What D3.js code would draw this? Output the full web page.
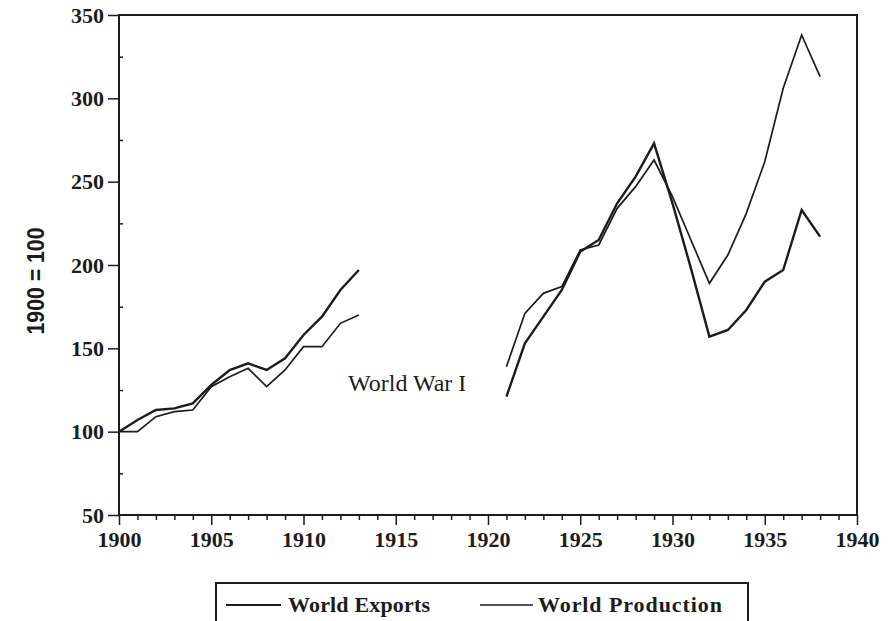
<!DOCTYPE html>
<html>
<head>
<meta charset="utf-8">
<script src="https://cdn.jsdelivr.net/npm/d3@7"></script>
<style>
  html, body { margin: 0; padding: 0; background: #fff; }
  svg { display: block; }
</style>
</head>
<body>
<svg id="chart" width="894" height="621"></svg>
<script>
// ---- data ----
const years = [1900,1901,1902,1903,1904,1905,1906,1907,1908,1909,1910,1911,1912,1913,
               1914,1915,1916,1917,1918,1919,1920,
               1921,1922,1923,1924,1925,1926,1927,1928,1929,1930,1931,1932,1933,1934,1935,1936,1937,1938];
const worldExports = [100,107,113,114,117,128,137,141,137,144,158,169,185,197,
               null,null,null,null,null,null,null,
               121,153,169,185,208,215,237,253,273,237,198,157,161,173,190,197,233,217];
const worldProduction = [100,100,109,112,113,127,133,138,127,137,151,151,165,170,
               null,null,null,null,null,null,null,
               139,171,183,187,209,212,234,247,263,241,215,189,206,231,262,306,338,313];
const xTicks = [1900,1905,1910,1915,1920,1925,1930,1935,1940];
const xMinorTicks = [1901,1902,1903,1904,1906,1907,1908,1909,1911,1912,1913,1914,1916,1917,1918,1919,
                     1921,1922,1923,1924,1926,1927,1928,1929,1931,1932,1933,1934,1936,1937,1938,1939];
const yTicks = [50,100,150,200,250,300,350];
const yMinorTicks = [75,125,175,225,275,325];
const seriesNames = ["World Exports", "World Production"];
const yLabel = "1900 = 100";
const annotation = "World War I";

// ---- layout ----
const svg = d3.select("#chart");
const L = 119, R = 857, T = 15, B = 515;
const ink = "#1c1c1c";
const serif = "'Liberation Serif', 'Times New Roman', serif";

const x = d3.scaleLinear().domain([1900, 1940]).range([L, R]);
const y = d3.scaleLinear().domain([50, 350]).range([B, T]);

// frame
svg.append("rect").attr("x", L).attr("y", T).attr("width", R - L).attr("height", B - T)
  .attr("fill", "none").attr("stroke", ink).attr("stroke-width", 2);

// x axis
const xAxis = svg.append("g").attr("transform", `translate(0,${B})`)
  .call(d3.axisBottom(x).tickValues(xTicks).tickFormat(d3.format("d")).tickSize(10).tickPadding(6));
const xMinor = svg.append("g").attr("transform", `translate(0,${B})`)
  .call(d3.axisBottom(x).tickValues(xMinorTicks).tickFormat("").tickSize(5));

// y axis
const yAxis = svg.append("g").attr("transform", `translate(${L},0)`)
  .call(d3.axisLeft(y).tickValues(yTicks).tickFormat(d3.format("d")).tickSize(11).tickPadding(4));
const yMinor = svg.append("g").attr("transform", `translate(${L},0)`)
  .call(d3.axisRight(y).tickValues(yMinorTicks).tickFormat("").tickSize(4));

[xAxis, xMinor, yAxis, yMinor].forEach(g => {
  g.select(".domain").remove();
  g.selectAll(".tick line").attr("stroke", ink).attr("stroke-width", 1.5);
  g.selectAll(".tick text").attr("fill", ink).attr("font-family", serif)
    .attr("font-size", 22).attr("font-weight", "bold");
});

// y label
svg.append("text")
  .attr("transform", `translate(44,281) rotate(-90)`)
  .attr("text-anchor", "middle")
  .attr("font-family", "'Liberation Sans', Arial, sans-serif")
  .attr("font-size", 23)
  .attr("font-weight", "bold")
  .attr("textLength", 107)
  .attr("lengthAdjust", "spacingAndGlyphs")
  .attr("fill", ink)
  .text(yLabel);

// lines
const mk = vals => years.map((yr, i) => ({ yr, v: vals[i] }));
const line = d3.line().defined(d => d.v != null).x(d => x(d.yr)).y(d => y(d.v));

svg.append("path").datum(mk(worldProduction)).attr("d", line)
  .attr("fill", "none").attr("stroke", ink).attr("stroke-width", 1.7).attr("stroke-linejoin", "miter");
svg.append("path").datum(mk(worldExports)).attr("d", line)
  .attr("fill", "none").attr("stroke", ink).attr("stroke-width", 2.4).attr("stroke-linejoin", "miter");

// annotation
svg.append("text").attr("x", 348).attr("y", 391)
  .attr("font-family", serif).attr("font-size", 24).attr("fill", ink)
  .text(annotation);

// legend
const lg = svg.append("g");
lg.append("rect").attr("x", 216).attr("y", 583).attr("width", 532).attr("height", 60)
  .attr("fill", "none").attr("stroke", ink).attr("stroke-width", 2);
const items = [
  { name: seriesNames[0], x1: 226, x2: 281, tx: 288, w: 2.2, len: 142 },
  { name: seriesNames[1], x1: 480, x2: 533, tx: 538, w: 1.7, len: 184 }
];
items.forEach(it => {
  lg.append("line").attr("x1", it.x1).attr("x2", it.x2).attr("y1", 605).attr("y2", 605)
    .attr("stroke", ink).attr("stroke-width", it.w);
  lg.append("text").attr("x", it.tx).attr("y", 612)
    .attr("font-family", serif).attr("font-size", 22).attr("font-weight", "bold")
    .attr("textLength", it.len).attr("lengthAdjust", "spacing")
    .attr("fill", ink).text(it.name);
});
</script>
</body>
</html>
